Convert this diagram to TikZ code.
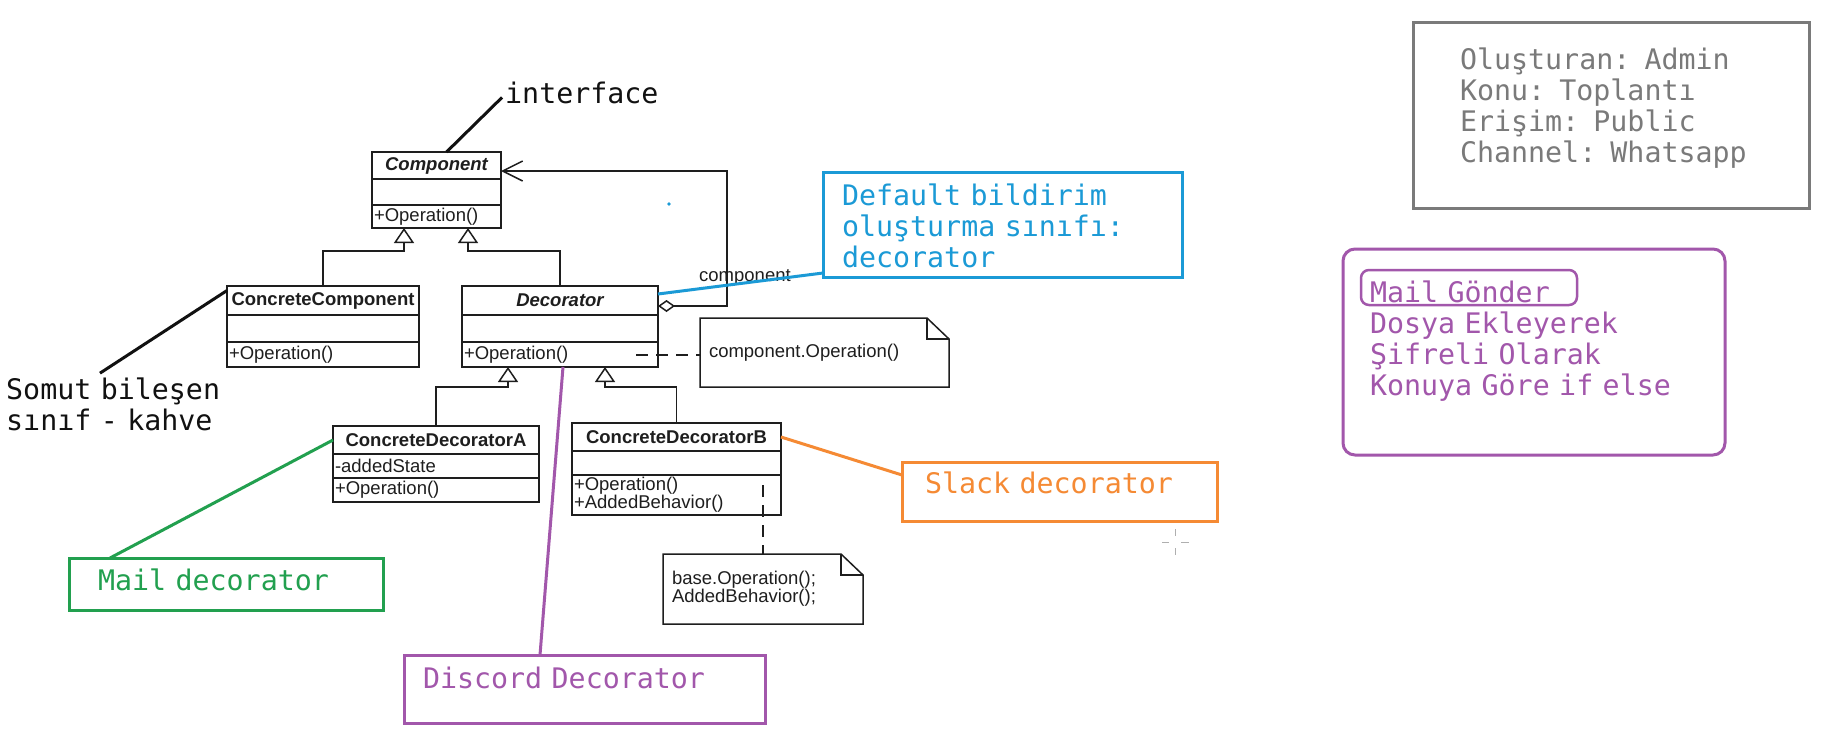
\documentclass[tikz,border=0pt]{standalone}
\usepackage{fontspec}
\usepackage{tikz}
\usetikzlibrary{arrows.meta,positioning}
\newfontfamily\umlfont{Liberation Sans}
\newfontfamily\annofont{DejaVu Sans Mono}
\newcommand\umltext{\umlfont\fontsize{18.5pt}{18pt}\selectfont}
\newcommand\annotext{\annofont\fontsize{28.3pt}{31.3pt}\selectfont\spaceskip=0.602em\relax}
\definecolor{umlink}{HTML}{1E1E1E}
\definecolor{ink}{HTML}{111111}
\definecolor{inkgray}{HTML}{7A7A7A}
\definecolor{accentblue}{HTML}{1B9AD6}
\definecolor{accentpurple}{HTML}{A257AB}
\definecolor{accentgreen}{HTML}{22A04F}
\definecolor{accentorange}{HTML}{F58A34}
\tikzset{
  umlline/.style={draw=umlink,line width=1.5pt},
  umlcell/.style={umlline,outer sep=0pt,inner xsep=2pt,inner ysep=1pt,
                  font=\umltext,text=umlink},
  umlname/.style={umlcell,minimum width=#1,font=\umltext\bfseries},
  umlrow/.style={umlcell,text width=#1-4pt,align=left},
  umlnote/.style={outer sep=0pt,inner xsep=9pt,inner ysep=0pt,text width=#1-18pt,
                  align=left,font=\umltext,text=umlink,anchor=north west},
  generalize/.style={umlline,-{Triangle[open,length=15pt,width=20pt]}},
  assoc/.style={umlline,{Diamond[open,length=17pt,width=12pt]}-{Straight Barb[length=20pt,width=20pt]}},
  notelink/.style={umlline,dash pattern=on 12pt off 8pt},
  annobox/.style={draw=#1,text=#1,line width=3pt,outer sep=0pt,inner ysep=0pt,
                  font=\annotext,align=left,anchor=north west,text height=20pt},
  annolabel/.style={text=ink,font=\annotext,inner sep=0pt,anchor=base west},
  leader/.style={draw=#1,line width=3pt}
}
\begin{document}
\begin{tikzpicture}[x=1pt,y=-1pt]
  \path[use as bounding box,fill=white] (0,0) rectangle (1821,740);

  % classes
  \node[umlname=129pt,minimum height=27pt,anchor=north west] (comp) at (372,152) {\itshape Component};
  \node[umlrow=129pt,minimum height=26pt,below=0pt of comp] (comp-attr) {};
  \node[umlrow=129pt,minimum height=23pt,below=0pt of comp-attr] (comp-ops) {+Operation()};

  \node[umlname=192pt,minimum height=29pt,anchor=north west] (cc) at (227,286) {ConcreteComponent};
  \node[umlrow=192pt,minimum height=27pt,below=0pt of cc] (cc-attr) {};
  \node[umlrow=192pt,minimum height=25pt,below=0pt of cc-attr] (cc-ops) {+Operation()};

  \node[umlname=196pt,minimum height=29pt,anchor=north west] (dec) at (462,286) {\itshape Decorator};
  \node[umlrow=196pt,minimum height=27pt,below=0pt of dec] (dec-attr) {};
  \node[umlrow=196pt,minimum height=25pt,below=0pt of dec-attr] (dec-ops) {+Operation()};

  \node[umlname=206pt,minimum height=28pt,anchor=north west] (cda) at (333,426) {ConcreteDecoratorA};
  \node[umlrow=206pt,minimum height=24pt,below=0pt of cda] (cda-attr) {-addedState};
  \node[umlrow=206pt,minimum height=24pt,below=0pt of cda-attr] (cda-ops) {+Operation()};

  \node[umlname=209pt,minimum height=28pt,anchor=north west] (cdb) at (572,423) {ConcreteDecoratorB};
  \node[umlrow=209pt,minimum height=24pt,below=0pt of cdb] (cdb-attr) {};
  \node[umlrow=209pt,minimum height=40pt,below=0pt of cdb-attr] (cdb-ops) {+Operation()\\+AddedBehavior()};

  % notes
  \node[umlnote=249pt,minimum height=69pt] (note1) at (700,318) {component.Operation()};
  \node[umlnote=200pt,minimum height=70pt] (note2) at (663,554) {base.Operation();\\AddedBehavior();};
  \foreach \n in {note1,note2}{
    \draw[umlline] (\n.north west) -- ([xshift=-22pt]\n.north east) -- ([yshift=-21pt]\n.north east)
      -- (\n.south east) -- (\n.south west) -- cycle;
    \draw[umlline] ([xshift=-22pt]\n.north east) |- ([yshift=-21pt]\n.north east);
  }
  \node[font=\umltext,text=umlink,inner sep=0pt,anchor=base west] (complabel) at (699,281) {component};

  % uml connectors
  \coordinate (genL) at (404,251);
  \coordinate (genR) at (468,251);
  \coordinate (genA) at (508,387);
  \coordinate (genB) at (605,387);
  \draw[generalize] (cc.north) |- (genL) -- (genL |- comp-ops.south);
  \draw[generalize] (dec.north) |- (genR) -- (genR |- comp-ops.south);
  \draw[generalize] (cda.north) |- (genA) -- (genA |- dec-ops.south);
  \draw[generalize] (cdb.north) |- (genB) -- (genB |- dec-ops.south);
  \coordinate (aggbend) at (727,306);
  \draw[assoc] ([yshift=-5.5pt]dec.east) -- (aggbend) |- ([yshift=-5.5pt]comp.east);
  \coordinate (decop) at (636,355);
  \coordinate (cdbop) at (763,485);
  \draw[notelink] (decop) -- (decop -| note1.west);
  \draw[notelink] (cdbop) -- (cdbop |- note2.north);

  % annotations
  \node[annobox=inkgray,text width=302pt,inner xsep=47pt,minimum height=186pt,text depth=112pt] (info) at (1413,22)
    {Oluşturan: Admin\\Konu: Toplantı\\Erişim: Public\\Channel: Whatsapp};
  \node[annobox=accentblue,text width=321pt,inner xsep=19pt,minimum height=105pt,text depth=59pt] (default) at (823,172)
    {Default bildirim\\oluşturma sınıfı:\\decorator};
  \node[annobox=accentpurple,rounded corners=12pt,text width=328pt,inner xsep=27pt,minimum height=206pt,text depth=120pt] (steps) at (1343,249)
    {Mail Gönder\\Dosya Ekleyerek\\Şifreli Olarak\\Konuya Göre if else};
  \draw[accentpurple,line width=2.5pt,rounded corners=8pt] (1361,270) rectangle (1577,305);
  \node[annobox=accentgreen,text width=256pt,inner xsep=29pt,minimum height=52pt,text depth=8pt] (mail) at (69,558) {Mail decorator};
  \node[annobox=accentorange,text width=269pt,inner xsep=23pt,minimum height=59pt,text depth=17pt] (slack) at (902,462) {Slack decorator};
  \node[annobox=accentpurple,text width=323pt,inner xsep=19pt,minimum height=68pt,text depth=22pt] (discord) at (404,655) {Discord Decorator};
  \node[annolabel] (iface) at (505,103) {interface};
  \node[annolabel,text width=240pt,align=left] (somut) at (6,399) {Somut bileşen\\sınıf - kahve};

  % leaders
  \draw[leader=ink] ([shift={(-3pt,-5pt)}]iface.west) -- ([xshift=10pt]comp.north);
  \draw[leader=ink] ([yshift=10pt]cc.west) -- ([shift={(94pt,4pt)}]somut.north west);
  \draw[leader=accentblue] ([yshift=6.5pt]dec.east) -- ([yshift=4pt]default.south west);
  \draw[leader=accentgreen] (cda.west) -- ([xshift=41pt]mail.north west);
  \draw[leader=accentpurple] ([xshift=3pt]dec-ops.south) -- ([xshift=136pt]discord.north west);
  \draw[leader=accentorange] (cdb.east) -- ([yshift=16.5pt]slack.west);

  % stray marks
  \fill[accentblue] (669,204) circle (1.8pt);
  \draw[inkgray!60,line width=1pt] (1162,542) -- (1169,542) (1181,542) -- (1189,542)
    (1175,529) -- (1175,536) (1175,548) -- (1175,555);
\end{tikzpicture}
\end{document}
